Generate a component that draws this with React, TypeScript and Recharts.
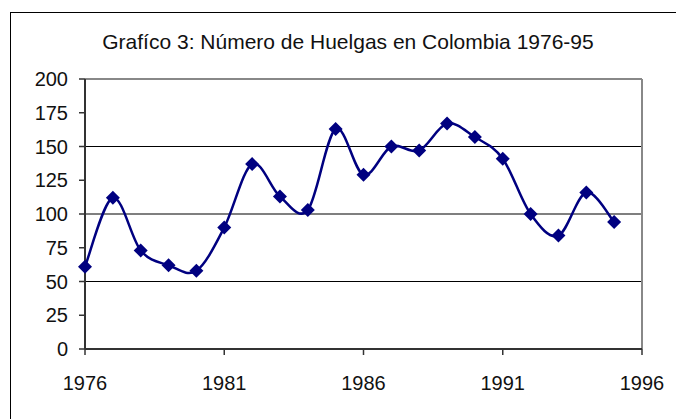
import { LineChart, Line, XAxis, YAxis, ReferenceLine } from 'recharts';

const years = [
  1976, 1977, 1978, 1979, 1980, 1981, 1982, 1983, 1984, 1985,
  1986, 1987, 1988, 1989, 1990, 1991, 1992, 1993, 1994, 1995,
];
const huelgas = [
  61, 112, 73, 62, 58, 90, 137, 113, 103, 163,
  129, 150, 147, 167, 157, 141, 100, 84, 116, 94,
];
const xTicks = [1976, 1981, 1986, 1991, 1996];
const yTicks = [0, 25, 50, 75, 100, 125, 150, 175, 200];
const gridValues = [50, 100, 150];

const data = years.map((year, i) => ({ year, value: huelgas[i] }));

// Excel-style smoothing (uniform Catmull-Rom as cubic beziers)
const excelSmooth = (context: any) => {
  let pts: number[][] = [];
  return {
    areaStart() {},
    areaEnd() {},
    lineStart() {
      pts = [];
    },
    point(x: number, y: number) {
      pts.push([+x, +y]);
    },
    lineEnd() {
      const n = pts.length;
      if (!n) return;
      context.moveTo(pts[0][0], pts[0][1]);
      for (let i = 0; i < n - 1; i++) {
        const p0 = pts[Math.max(i - 1, 0)];
        const p1 = pts[i];
        const p2 = pts[i + 1];
        const p3 = pts[Math.min(i + 2, n - 1)];
        context.bezierCurveTo(
          p1[0] + (p2[0] - p0[0]) / 6,
          p1[1] + (p2[1] - p0[1]) / 6,
          p2[0] - (p3[0] - p1[0]) / 6,
          p2[1] - (p3[1] - p1[1]) / 6,
          p2[0],
          p2[1]
        );
      }
    },
  };
};

const Diamond = (props: any) => {
  const { cx, cy } = props;
  if (cx == null || cy == null) return null;
  const r = 7;
  return (
    <polygon
      points={`${cx},${cy - r} ${cx + r},${cy} ${cx},${cy + r} ${cx - r},${cy}`}
      fill="#000080"
    />
  );
};

const font = '"Liberation Sans", Arial, sans-serif';

export default function App() {
  return (
    <div
      style={{
        position: 'absolute',
        left: 0,
        top: 0,
        width: 676,
        height: 419,
        overflow: 'hidden',
        background: '#fff',
        fontFamily: font,
      }}
    >
      <div
        style={{
          position: 'absolute',
          left: 10,
          top: 12,
          width: 700,
          height: 450,
          border: '1.5px solid #000',
        }}
      />
      <div
        style={{
          position: 'absolute',
          left: 0,
          width: 696,
          top: 30,
          textAlign: 'center',
          fontSize: 21,
          color: '#111',
        }}
      >
        Grafíco 3: Número de Huelgas en Colombia 1976-95
      </div>
      <div style={{ position: 'absolute', left: 0, top: 0 }}>
        <LineChart
          width={676}
          height={419}
          data={data}
          margin={{ top: 79, right: 34, left: 0, bottom: 40 }}
        >
          <XAxis
            dataKey="year"
            type="number"
            domain={[1976, 1996]}
            ticks={xTicks}
            interval={0}
            height={30}
            tickSize={6}
            tickMargin={21}
            axisLine={{ stroke: '#333', strokeWidth: 2 }}
            tickLine={{ stroke: '#333', strokeWidth: 1.5 }}
            tick={{ fill: '#111', fontSize: 20, fontFamily: font }}
          />
          <YAxis
            type="number"
            domain={[0, 200]}
            ticks={yTicks}
            interval={0}
            width={85}
            tickSize={6}
            tickMargin={11}
            axisLine={{ stroke: '#333', strokeWidth: 2 }}
            tickLine={{ stroke: '#333', strokeWidth: 1.5 }}
            tick={{ fill: '#111', fontSize: 20, fontFamily: font }}
          />
          {gridValues.map((v) => (
            <ReferenceLine key={v} y={v} stroke="#000" strokeWidth={1.2} />
          ))}
          <ReferenceLine y={200} stroke="#888" strokeWidth={2} />
          <ReferenceLine x={1996} stroke="#888" strokeWidth={2} />
          <Line
            dataKey="value"
            type={excelSmooth as any}
            stroke="#000080"
            strokeWidth={2.5}
            dot={<Diamond />}
            activeDot={false}
            isAnimationActive={false}
          />
        </LineChart>
      </div>
    </div>
  );
}
